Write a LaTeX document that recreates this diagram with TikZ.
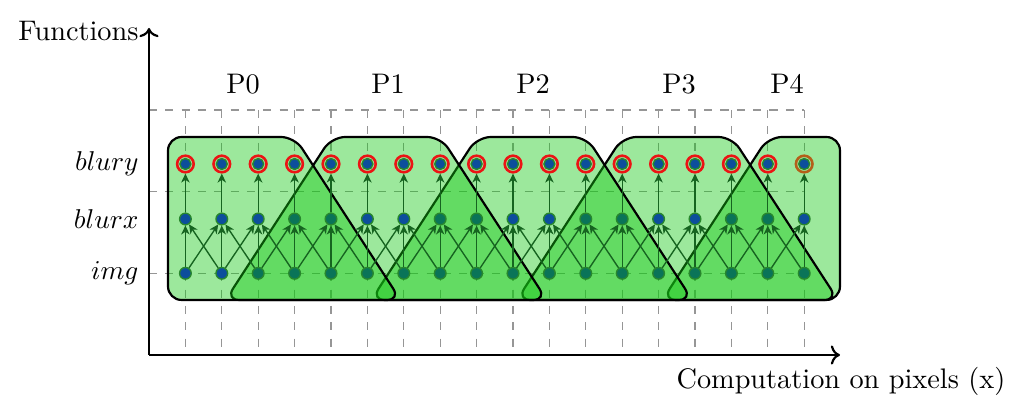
\documentclass[tikz,border=0pt]{standalone}
\usetikzlibrary{arrows.meta}
\definecolor{pfill}{RGB}{20,200,20}
\definecolor{dotblue}{RGB}{12,78,156}
\definecolor{dotteal}{RGB}{10,116,88}
\definecolor{dotedge}{RGB}{40,135,45}
\definecolor{arrowgreen}{RGB}{22,100,32}
\definecolor{ringred}{RGB}{235,20,20}
\definecolor{ringbrown}{RGB}{180,95,25}
\definecolor{gridgray}{RGB}{150,150,150}
\begin{document}
\begin{tikzpicture}[x=0.3675pt,y=-0.3675pt,
  font=\fontsize{10.4pt}{12.5pt}\selectfont,
  part/.style={fill=pfill, fill opacity=0.42, draw=black, line width=0.8pt, rounded corners=5pt},
  dotb/.style={circle, inner sep=0pt, minimum size=4.3pt, fill=dotblue, draw=dotedge, line width=0.5pt},
  dott/.style={dotb, fill=dotteal},
  ringnode/.style={circle, inner sep=0pt, minimum size=6.1pt, draw=ringred, line width=0.95pt},
  innerdot/.style={fill=dotblue, draw=dotedge, line width=0.5pt},
  flow/.style={-{Stealth[length=3.3pt,width=3.1pt,inset=1pt]}, draw=arrowgreen, line width=0.5pt},
  axis/.style={->, line width=0.8pt},
  gridline/.style={draw=gridgray, dashed, line width=0.4pt},
  lbl/.style={inner sep=0pt}
]
\useasboundingbox (0,0) rectangle (1024,414);

% grid
\foreach \k in {1,...,18} \draw[gridline] ({149+36.4*\k},110) -- ({149+36.4*\k},355);
\foreach \yy in {110,191.6,273.3} \draw[gridline] (149,\yy) -- (804.2,\yy);

% partitions (drawn last to first)
\draw[part] (662.4,300) -- (768.4,137) -- (840,137) -- (840,300) -- cycle;
\draw[part] (516.8,300) -- (622.8,137) -- (732,137) -- (838,300) -- cycle;
\draw[part] (371.2,300) -- (477.2,137) -- (586.4,137) -- (692.4,300) -- cycle;
\draw[part] (225.6,300) -- (331.6,137) -- (440.8,137) -- (546.8,300) -- cycle;
\draw[part] (168,300) -- (168,137) -- (294.6,137) -- (400.6,300) -- cycle;

% nodes
\foreach \k/\si/\sx in {0/dotb/dotb,1/dotb/dotb,2/dott/dotb,3/dott/dott,4/dott/dott,5/dott/dotb,
  6/dott/dotb,7/dott/dott,8/dott/dott,9/dott/dotb,10/dott/dotb,11/dott/dott,12/dott/dott,
  13/dott/dotb,14/dott/dotb,15/dott/dott,16/dott/dott,17/dott/dotb} {
  \node[\si] (img\k) at ({149+36.4*(\k+1)},273.3) {};
  \node[\sx] (bx\k) at ({149+36.4*(\k+1)},219) {};
}
\foreach \k in {0,...,16} {
  \node[ringnode] (by\k) at ({149+36.4*(\k+1)},164) {};
}
\node[ringnode, draw=ringbrown] (by17) at ({149+36.4*18},164) {};
\foreach \k in {0,...,17} {
  \filldraw[innerdot] (by\k.center) circle[radius=5.5];
}

% arrows
\foreach \k in {0,...,17} {
  \draw[flow] (img\k) -- (bx\k);
  \draw[flow] (bx\k) -- (by\k);
}
\foreach \k in {0,...,16} {
  \pgfmathtruncatemacro\kn{\k+1}
  \draw[flow] (img\k) -- (bx\kn);
  \draw[flow] (img\kn) -- (bx\k);
}

% axes
\coordinate (O) at (149,355);
\coordinate (ytop) at (149,28);
\coordinate (xend) at (840,355);
\draw[axis] (O) -- (ytop);
\draw[axis] (O) -- (xend);
\node[lbl, anchor=east] (ylab) at (139,31) {Functions};
\node[lbl, anchor=north] (xlab) at (841,367) {Computation on pixels (x)};

% row labels
\node[lbl, anchor=east] (lby) at (139,164) {$blury$};
\node[lbl, anchor=east] (lbx) at (139,219) {$blurx$};
\node[lbl, anchor=east] (lim) at (139,273) {$img$};

% partition labels
\node (p0) at (243,84) {P0};
\node (p1) at (388,84) {P1};
\node (p2) at (533,84) {P2};
\node (p3) at (679,84) {P3};
\node (p4) at (787,84) {P4};
\end{tikzpicture}
\end{document}
